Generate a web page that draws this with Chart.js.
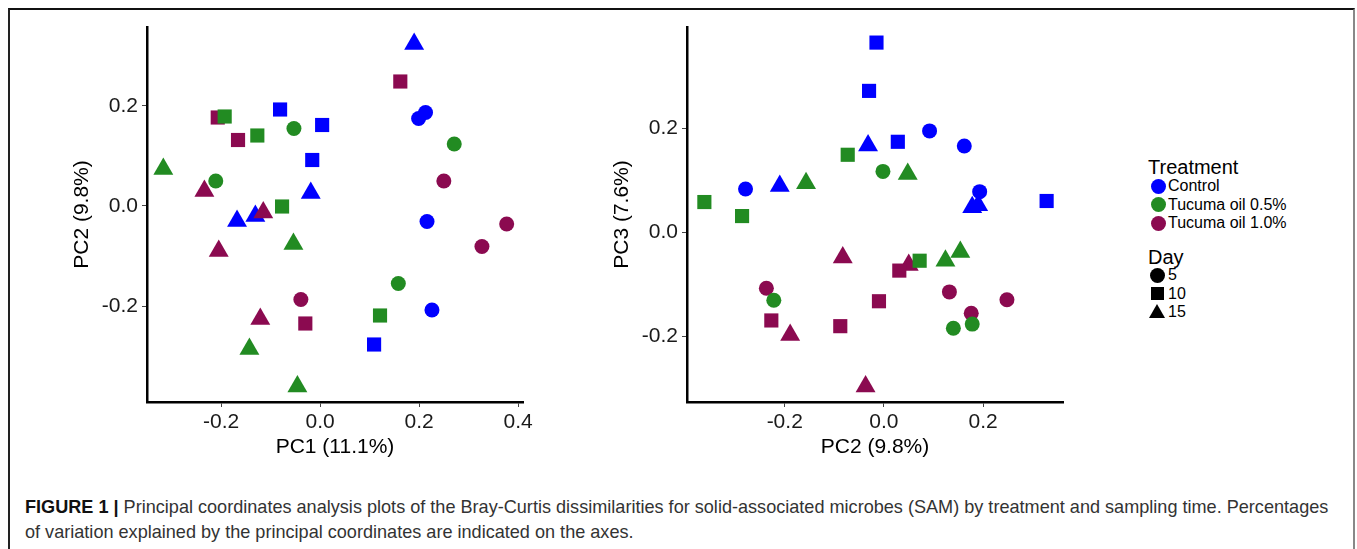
<!DOCTYPE html>
<html>
<head>
<meta charset="utf-8">
<script src="https://cdn.jsdelivr.net/npm/chart.js"></script>
<style>
body { margin: 0; background: #fff; font-family: "Liberation Sans", Arial, sans-serif; }
#fig { position: relative; width: 1357px; height: 549px; overflow: hidden; background: #fff; }
#frame { position: absolute; left: 8px; top: 8px; width: 1343px; height: 600px;
         border-top: 2px solid #111; border-left: 2px solid #222; border-right: 2px solid #888; }
.panel { position: absolute; top: 10px; width: 520px; height: 470px; }
.lg { position: absolute; color: #000; white-space: nowrap; }
.lgTitle { font-size: 20px; line-height: 24px; }
.lgItem { font-size: 16px; line-height: 20px; }
.dot { position: absolute; border-radius: 50%; }
.sq { position: absolute; }
.tri { position: absolute; width: 0; height: 0; border-left: 8px solid transparent; border-right: 8px solid transparent; }
#caption { position: absolute; left: 25px; top: 495px; font-size: 18.1px; line-height: 25px; color: #333; white-space: nowrap; }
#caption b { color: #111; }
</style>
</head>
<body>
<div id="fig">
  <div id="frame"></div>
  <div class="panel" style="left:20px"><canvas id="pcoaA"></canvas></div>
  <div class="panel" style="left:560px"><canvas id="pcoaB"></canvas></div>
  <div id="legend"></div>
  <div id="caption">
    <div><b>FIGURE 1 |</b> Principal coordinates analysis plots of the Bray-Curtis dissimilarities for solid-associated microbes (SAM) by treatment and sampling time. Percentages</div>
    <div>of variation explained by the principal coordinates are indicated on the axes.</div>
  </div>
</div>
<script>
// ---------------- data ----------------
const treatments = ["Control", "Tucuma oil 0.5%", "Tucuma oil 1.0%"];
const days = [5, 10, 15];

// panel A : PC1 (x) vs PC2 (y), rows are [day, x, y]
const panelA_control = [
    [5, 0.213, 0.187], [5, 0.199, 0.175], [5, 0.216, -0.031], [5, 0.226, -0.208],
    [10, -0.081, 0.193], [10, 0.004, 0.162], [10, -0.016, 0.092], [10, 0.109, -0.277],
    [15, 0.19, 0.324], [15, -0.019, 0.026], [15, -0.168, -0.03], [15, -0.131, -0.02],
];
const panelA_oil05 = [
    [5, -0.053, 0.155], [5, 0.271, 0.124], [5, -0.211, 0.05], [5, 0.158, -0.155],
    [10, -0.193, 0.179], [10, -0.127, 0.141], [10, -0.077, -0.001], [10, 0.121, -0.219],
    [15, -0.317, 0.074], [15, -0.054, -0.076], [15, -0.143, -0.286], [15, -0.046, -0.361],
];
const panelA_oil10 = [
    [5, 0.25, 0.05], [5, 0.377, -0.036], [5, 0.327, -0.081], [5, -0.039, -0.187],
    [10, 0.162, 0.249], [10, -0.207, 0.177], [10, -0.166, 0.132], [10, -0.03, -0.235],
    [15, -0.234, 0.03], [15, -0.115, -0.013], [15, -0.205, -0.09], [15, -0.121, -0.226],
];

// panel B : PC2 (x) vs PC3 (y)
const panelB_control = [
    [5, 0.092, 0.195], [5, 0.162, 0.166], [5, -0.279, 0.083], [5, 0.193, 0.078],
    [10, -0.015, 0.365], [10, -0.03, 0.272], [10, 0.028, 0.174], [10, 0.328, 0.06],
    [15, -0.032, 0.167], [15, -0.21, 0.089], [15, 0.178, 0.048], [15, 0.19, 0.052],
];
const panelB_oil05 = [
    [5, -0.002, 0.117], [5, -0.222, -0.131], [5, 0.14, -0.185], [5, 0.178, -0.177],
    [10, -0.073, 0.149], [10, -0.362, 0.058], [10, -0.286, 0.031], [10, 0.072, -0.055],
    [15, 0.048, 0.112], [15, -0.157, 0.094], [15, 0.124, -0.055], [15, 0.154, -0.038],
];
const panelB_oil10 = [
    [5, -0.237, -0.108], [5, 0.132, -0.115], [5, 0.248, -0.13], [5, 0.176, -0.156],
    [10, 0.031, -0.074], [10, -0.01, -0.133], [10, -0.227, -0.17], [10, -0.088, -0.181],
    [15, -0.083, -0.049], [15, 0.05, -0.063], [15, -0.189, -0.198], [15, -0.037, -0.297],
];

const xTicksA = [-0.2, 0.0, 0.2, 0.4];
const yTicksA = [-0.2, 0.0, 0.2];
const xTicksB = [-0.2, 0.0, 0.2];
const yTicksB = [-0.2, 0.0, 0.2];

// ---------------- styles ----------------
const treatColors = ["#0000FF", "#228B22", "#8B0A50"];
const drawRank = [2, 0, 1]; // green on top, then maroon, then blue
const dayShapes = ["circle", "rect", "triangle"];
const dayRadius = [7.5, 10, 11.5];

function buildDatasets(groups) {
    const out = [];
    groups.forEach((rows, t) => {
        days.forEach((day, d) => {
            out.push({
                label: treatments[t] + " / " + day,
                data: rows.filter((r) => r[0] === day).map((r) => ({ x: r[1], y: r[2] })),
                pointStyle: dayShapes[d],
                pointRadius: dayRadius[d],
                backgroundColor: treatColors[t],
                borderColor: treatColors[t],
                borderWidth: 0,
                order: drawRank[t] * 3 + d,
            });
        });
    });
    return out;
}

function axis(title, min, max, ticks, horizontal) {
    return {
        type: "linear",
        min: min,
        max: max,
        afterBuildTicks: (s) => { s.ticks = ticks.map((v) => ({ value: v })); },
        afterFit: (s) => { if (horizontal) s.height = 78; else s.width = 127; },
        border: { display: true, color: "#000", width: 2.5 },
        grid: { drawOnChartArea: false, drawTicks: true, tickLength: 5, tickColor: "#444", lineWidth: 1 },
        ticks: {
            padding: horizontal ? 3 : 4,
            color: "#1a1a1a",
            font: { family: "Liberation Sans", size: 21 },
            callback: (v) => Number(v).toFixed(1),
            maxRotation: 0,
        },
        title: {
            display: true,
            text: title,
            color: "#000",
            font: { family: "Liberation Sans", size: 21 },
            padding: horizontal ? { top: 0, bottom: 20 } : { top: 50, bottom: 0 },
        },
    };
}

function makePanel(id, groups, xTitle, yTitle, xr, yr, xt, yt) {
    new Chart(document.getElementById(id), {
        type: "scatter",
        data: { datasets: buildDatasets(groups) },
        options: {
            responsive: true,
            maintainAspectRatio: false,
            animation: false,
            events: [],
            layout: { padding: { top: 17, right: 17, left: 0, bottom: 0 } },
            plugins: { legend: { display: false }, tooltip: { enabled: false } },
            scales: {
                x: axis(xTitle, xr[0], xr[1], xt, true),
                y: axis(yTitle, yr[0], yr[1], yt, false),
            },
        },
    });
}

makePanel("pcoaA", [panelA_control, panelA_oil05, panelA_oil10],
    "PC1 (11.1%)", "PC2 (9.8%)", [-0.35, 0.41], [-0.392, 0.358], xTicksA, yTicksA);
makePanel("pcoaB", [panelB_control, panelB_oil05, panelB_oil10],
    "PC2 (9.8%)", "PC3 (7.6%)", [-0.397, 0.361], [-0.327, 0.395], xTicksB, yTicksB);

// ---------------- legend (html) ----------------
const lg = document.getElementById("legend");
function addText(cls, text, left, cy, h) {
    const el = document.createElement("div");
    el.className = "lg " + cls;
    el.textContent = text;
    el.style.left = left + "px";
    el.style.top = (cy - h / 2) + "px";
    lg.appendChild(el);
}
function addShape(shape, color, cx, cy) {
    const el = document.createElement("div");
    if (shape === "circle") {
        el.className = "dot";
        el.style.cssText += `left:${cx - 7.5}px;top:${cy - 7.5}px;width:15px;height:15px;background:${color}`;
    } else if (shape === "rect") {
        el.className = "sq";
        el.style.cssText += `left:${cx - 6.5}px;top:${cy - 6.5}px;width:13px;height:13px;background:${color}`;
    } else {
        el.className = "tri";
        el.style.cssText += `left:${cx - 8}px;top:${cy - 8}px;border-bottom:14px solid ${color}`;
    }
    lg.appendChild(el);
}
addText("lgTitle", "Treatment", 1148, 167, 24);
treatments.forEach((t, i) => {
    const cy = 186 + i * 18.6;
    addShape("circle", treatColors[i], 1158, cy);
    addText("lgItem", t, 1168, cy, 20);
});
addText("lgTitle", "Day", 1148, 257, 24);
days.forEach((d, i) => {
    const cy = 275 + i * 18.6;
    addShape(dayShapes[i], "#000", 1157, cy);
    addText("lgItem", String(d), 1168, cy, 20);
});
</script>
</body>
</html>
